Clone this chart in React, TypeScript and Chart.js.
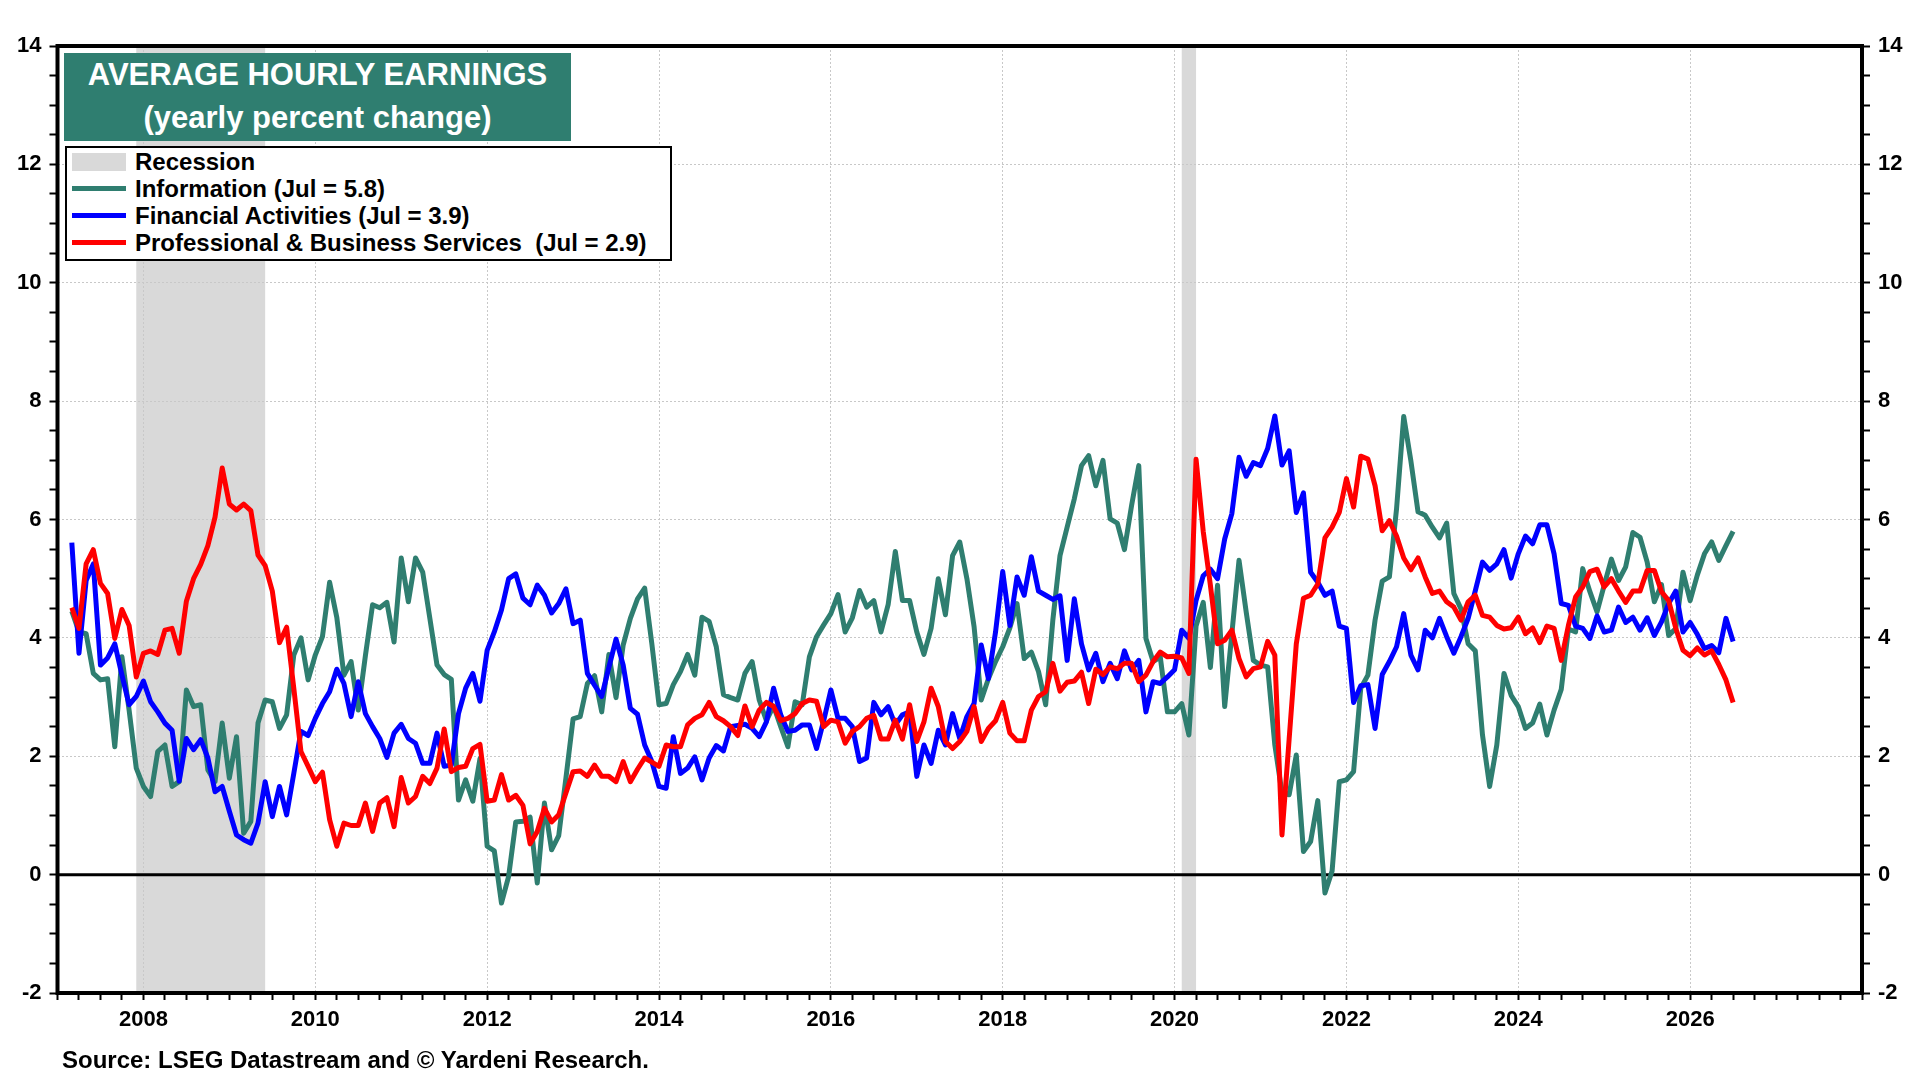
import React, { useEffect, useRef } from "react";
import { Chart, registerables } from "chart.js";

Chart.register(...registerables);

// ---------------- DATA ----------------
// Monthly series, first observation March 2007, last July 2026 (one row per calendar year)
const START_YEAR = 2007;
const START_MONTH = 3;

const information = [
  4.45, 4.10, 4.07, 3.40, 3.29, 3.31, 2.16, 3.68, 2.78, 1.80, // 2007 (Mar-Dec)
  1.49, 1.32, 2.08, 2.19, 1.49, 1.57, 3.12, 2.84, 2.87, 1.77, 1.57, 2.56, // 2008
  1.63, 2.33, 0.70, 0.90, 2.56, 2.95, 2.92, 2.47, 2.70, 3.71, 4.00, 3.29, // 2009
  3.71, 4.02, 4.94, 4.35, 3.37, 3.60, 2.78, 3.70, 4.56, 4.51, 4.60, 3.93, // 2010
  5.35, 4.61, 5.35, 5.11, 4.33, 3.54, 3.38, 3.30, 1.26, 1.60, 1.24, 1.96, // 2011
  0.48, 0.40, -0.48, -0.03, 0.89, 0.90, 0.97, -0.14, 1.21, 0.42, 0.66, 1.63, // 2012
  2.63, 2.67, 3.23, 3.36, 2.75, 3.72, 2.99, 3.88, 4.33, 4.66, 4.84, 3.90, // 2013
  2.87, 2.89, 3.21, 3.43, 3.72, 3.37, 4.35, 4.28, 3.85, 3.04, 2.99, 2.95, // 2014
  3.40, 3.60, 2.95, 2.60, 2.85, 2.50, 2.16, 2.92, 2.87, 3.68, 4.02, 4.22, // 2015
  4.41, 4.73, 4.10, 4.34, 4.80, 4.52, 4.63, 4.10, 4.56, 5.46, 4.63, 4.63, // 2016
  4.10, 3.72, 4.16, 5.00, 4.39, 5.39, 5.62, 5.00, 4.19, 2.95, 3.31, 3.60, // 2017
  3.85, 4.17, 4.58, 3.65, 3.76, 3.43, 2.87, 4.30, 5.39, 5.87, 6.35, 6.91, // 2018
  7.08, 6.57, 7.00, 6.01, 5.94, 5.49, 6.24, 6.91, 3.99, 3.60, 3.68, 2.75, // 2019
  2.75, 2.89, 2.36, 4.20, 4.60, 3.50, 4.89, 2.84, 4.07, 5.31, 4.44, 3.62, // 2020
  3.54, 3.51, 2.19, 1.38, 1.35, 2.02, 0.39, 0.56, 1.25, -0.31, 0.06, 1.57, // 2021
  1.60, 1.74, 3.15, 3.37, 4.30, 4.96, 5.03, 6.18, 7.74, 6.99, 6.13, 6.07, // 2022
  5.87, 5.69, 5.94, 4.75, 4.49, 3.90, 3.78, 2.36, 1.49, 2.19, 3.40, 3.03, // 2023
  2.84, 2.47, 2.56, 2.88, 2.36, 2.78, 3.13, 4.15, 4.10, 5.17, 4.78, 4.44, // 2024
  4.89, 5.33, 4.97, 5.20, 5.78, 5.70, 5.28, 4.61, 4.90, 4.04, 4.16, 5.11, // 2025
  4.63, 5.06, 5.42, 5.62, 5.31, 5.56, 5.80, // 2026 (Jan-Jul)
];

const financialActivities = [
  5.61, 3.74, 4.97, 5.25, 3.54, 3.66, 3.90, 3.37, 2.87, 3.01, // 2007
  3.27, 2.92, 2.75, 2.56, 2.44, 1.58, 2.30, 2.11, 2.28, 1.97, 1.40, 1.49, // 2008
  1.07, 0.67, 0.59, 0.53, 0.87, 1.57, 0.98, 1.49, 1.01, 1.71, 2.42, 2.35, // 2009
  2.64, 2.89, 3.09, 3.47, 3.23, 2.67, 3.26, 2.72, 2.50, 2.30, 1.98, 2.39, // 2010
  2.54, 2.30, 2.22, 1.88, 1.88, 2.39, 1.83, 1.85, 2.72, 3.15, 3.40, 2.93, // 2011
  3.79, 4.10, 4.47, 5.00, 5.08, 4.67, 4.56, 4.89, 4.72, 4.42, 4.58, 4.83, // 2012
  4.24, 4.30, 3.40, 3.20, 3.01, 3.50, 3.98, 3.54, 2.81, 2.71, 2.19, 1.91, // 2013
  1.49, 1.46, 2.33, 1.71, 1.80, 1.99, 1.60, 1.97, 2.18, 2.09, 2.50, 2.52, // 2014
  2.54, 2.47, 2.33, 2.58, 3.15, 2.70, 2.42, 2.44, 2.53, 2.53, 2.13, 2.60, // 2015
  3.12, 2.64, 2.64, 2.50, 1.91, 1.97, 2.91, 2.70, 2.84, 2.53, 2.70, 2.75, // 2016
  1.66, 2.19, 1.88, 2.44, 2.19, 2.72, 2.30, 2.67, 2.89, 3.88, 3.31, 4.10, // 2017
  5.12, 4.21, 5.03, 4.72, 5.37, 4.79, 4.72, 4.65, 4.71, 3.62, 4.66, 3.90, // 2018
  3.46, 3.74, 3.26, 3.57, 3.31, 3.78, 3.46, 3.62, 2.75, 3.26, 3.23, 3.34, // 2019
  3.46, 4.13, 3.99, 4.63, 5.05, 5.16, 5.00, 5.67, 6.10, 7.05, 6.73, 6.96, // 2020
  6.91, 7.20, 7.75, 6.92, 7.16, 6.12, 6.45, 5.11, 4.94, 4.72, 4.79, 4.20, // 2021
  4.16, 2.91, 3.19, 3.21, 2.47, 3.38, 3.60, 3.85, 4.41, 3.71, 3.46, 4.13, // 2022
  4.00, 4.33, 4.02, 3.74, 4.02, 4.33, 4.80, 5.28, 5.14, 5.25, 5.49, 5.01, // 2023
  5.42, 5.72, 5.59, 5.91, 5.91, 5.42, 4.58, 4.55, 4.20, 4.16, 3.99, 4.37, // 2024
  4.10, 4.13, 4.52, 4.26, 4.35, 4.13, 4.34, 4.04, 4.27, 4.58, 4.79, 4.10, // 2025
  4.26, 4.06, 3.82, 3.87, 3.75, 4.33, 3.94, // 2026
];

const professionalBusiness = [
  4.51, 4.16, 5.25, 5.49, 4.92, 4.75, 3.99, 4.48, 4.21, 3.34, // 2007
  3.74, 3.78, 3.72, 4.13, 4.16, 3.74, 4.62, 5.00, 5.24, 5.56, 6.04, 6.87, // 2008
  6.26, 6.16, 6.26, 6.15, 5.40, 5.22, 4.79, 3.92, 4.18, 3.15, 2.08, 1.83, // 2009
  1.57, 1.73, 0.93, 0.48, 0.87, 0.83, 0.83, 1.21, 0.73, 1.21, 1.30, 0.81, // 2010
  1.64, 1.21, 1.32, 1.66, 1.54, 1.80, 2.46, 1.74, 1.81, 1.83, 2.13, 2.20, // 2011
  1.24, 1.26, 1.69, 1.26, 1.34, 1.17, 0.52, 0.73, 1.12, 0.89, 1.01, 1.38, // 2012
  1.74, 1.75, 1.66, 1.85, 1.66, 1.66, 1.57, 1.91, 1.57, 1.78, 1.97, 1.90, // 2013
  1.83, 2.19, 2.16, 2.16, 2.53, 2.64, 2.70, 2.91, 2.67, 2.60, 2.50, 2.35, // 2014
  2.85, 2.50, 2.78, 2.91, 2.84, 2.60, 2.64, 2.72, 2.89, 2.95, 2.93, 2.50, // 2015
  2.61, 2.58, 2.22, 2.42, 2.50, 2.64, 2.69, 2.29, 2.29, 2.61, 2.29, 2.87, // 2016
  2.25, 2.58, 3.15, 2.84, 2.25, 2.13, 2.25, 2.42, 2.84, 2.25, 2.47, 2.60, // 2017
  2.91, 2.39, 2.26, 2.26, 2.78, 3.01, 3.09, 3.57, 3.10, 3.25, 3.27, 3.42, // 2018
  2.89, 3.47, 3.38, 3.51, 3.48, 3.57, 3.57, 3.26, 3.37, 3.60, 3.76, 3.68, // 2019
  3.69, 3.66, 3.40, 7.02, 5.80, 4.89, 3.90, 3.96, 4.13, 3.65, 3.34, 3.48, // 2020
  3.51, 3.94, 3.71, 0.67, 2.29, 3.90, 4.67, 4.72, 4.91, 5.69, 5.87, 6.12, // 2021
  6.69, 6.21, 7.07, 7.02, 6.57, 5.81, 5.98, 5.72, 5.35, 5.15, 5.35, 5.03, // 2022
  4.75, 4.79, 4.61, 4.52, 4.30, 4.61, 4.72, 4.38, 4.35, 4.21, 4.15, 4.17, // 2023
  4.35, 4.07, 4.17, 3.92, 4.20, 4.16, 3.62, 4.21, 4.69, 4.86, 5.12, 5.16, // 2024
  4.86, 5.00, 4.79, 4.60, 4.79, 4.79, 5.14, 5.14, 4.78, 4.63, 4.16, 3.79, // 2025
  3.70, 3.83, 3.71, 3.78, 3.55, 3.29, 2.91, // 2026
];

const seriesLabels = [
  "Information (Jul = 5.8)",
  "Financial Activities (Jul = 3.9)",
  "Professional & Business Services  (Jul = 2.9)",
];
const recessionLabel = "Recession";
// recession periods as [start year, start month, end year, end month]
const recessions = [
  [2007, 12, 2009, 6],
  [2020, 2, 2020, 4],
];
const titleLines = ["AVERAGE HOURLY EARNINGS", "(yearly percent change)"];
const sourceText = "Source: LSEG Datastream and © Yardeni Research.";
const xRange = [2007, 2028];
const yRange = [-2, 14];
const lastLabelledYear = 2026;

// ---------------- STYLE ----------------
const FONT = "'Liberation Sans', Arial, Helvetica, sans-serif";
const TEAL = "#2f7e70";
const BLUE = "#0000ff";
const RED = "#ff0000";
const SHADE = "#d9d9d9";

const toYear = (y: number, m: number) => y + (m - 1) / 12;
const monthX = (i: number) => START_YEAR + (START_MONTH - 1 + i) / 12;
const isEvenInt = (v: number) =>
  Math.abs(v - Math.round(v)) < 1e-6 && Math.round(v) % 2 === 0;

const decorPlugin = {
  id: "decor",
  beforeDraw(chart: any) {
    const { ctx, chartArea: a, scales } = chart;
    ctx.save();
    ctx.fillStyle = "#ffffff";
    ctx.fillRect(0, 0, chart.width, chart.height);
    ctx.fillStyle = SHADE;
    for (const r of recessions) {
      const x1 = scales.x.getPixelForValue(toYear(r[0], r[1]));
      const x2 = scales.x.getPixelForValue(toYear(r[2], r[3]));
      ctx.fillRect(x1, a.top, x2 - x1, a.bottom - a.top);
    }
    ctx.restore();
  },
  beforeDatasetsDraw(chart: any) {
    const { ctx, chartArea: a, scales } = chart;
    const y0 = scales.y.getPixelForValue(0);
    ctx.save();
    ctx.strokeStyle = "#000";
    ctx.lineWidth = 3;
    ctx.beginPath();
    ctx.moveTo(a.left, y0);
    ctx.lineTo(a.right, y0);
    ctx.stroke();
    ctx.restore();
  },
  afterDraw(chart: any) {
    const { ctx, chartArea: a } = chart;
    ctx.save();
    ctx.strokeStyle = "#000";
    ctx.lineWidth = 4;
    ctx.strokeRect(a.left, a.top, a.right - a.left, a.bottom - a.top);
    ctx.restore();
  },
};

const tickFont = { family: FONT, size: 22, weight: "bold" as const };

function yAxis(position: "left" | "right", width: number, onChart: boolean) {
  return {
    type: "linear",
    position,
    min: yRange[0],
    max: yRange[1],
    afterFit: (s: any) => {
      s.width = width;
    },
    ticks: {
      stepSize: 0.5,
      autoSkip: false,
      padding: 8,
      color: "#000",
      font: tickFont,
      callback: (v: number) => (isEvenInt(v) ? String(Math.round(v)) : ""),
    },
    grid: {
      drawOnChartArea: onChart,
      color: (c: any) =>
        c.tick && isEvenInt(c.tick.value) ? "#c8c8c8" : "rgba(0,0,0,0)",
      lineWidth: 1,
      tickColor: "#000",
      tickWidth: 2,
      tickLength: 8,
    },
    border: { display: false, dash: [2, 2] },
  };
}

export default function App() {
  const canvasRef = useRef<HTMLCanvasElement | null>(null);

  useEffect(() => {
    if (!canvasRef.current) return;
    const mk = (arr: number[]) => arr.map((v, i) => ({ x: monthX(i), y: v }));
    const chart = new Chart(canvasRef.current, {
      type: "line",
      data: {
        datasets: [
          {
            label: seriesLabels[0],
            data: mk(information),
            borderColor: TEAL,
            borderWidth: 5,
            pointRadius: 0,
            order: 2,
          },
          {
            label: seriesLabels[1],
            data: mk(financialActivities),
            borderColor: BLUE,
            borderWidth: 5,
            pointRadius: 0,
            order: 1,
          },
          {
            label: seriesLabels[2],
            data: mk(professionalBusiness),
            borderColor: RED,
            borderWidth: 5,
            pointRadius: 0,
            order: 0,
          },
        ],
      },
      options: {
        animation: false,
        responsive: false,
        devicePixelRatio: 1,
        layout: { padding: { top: 46, left: 0, right: 0, bottom: 0 } },
        plugins: { legend: { display: false }, tooltip: { enabled: false } },
        elements: {
          line: { tension: 0, borderJoinStyle: "round", borderCapStyle: "butt" },
          point: { radius: 0 },
        },
        scales: {
          x: {
            type: "linear",
            min: xRange[0],
            max: xRange[1],
            afterFit: (s: any) => {
              s.height = 87;
            },
            ticks: {
              stepSize: 0.25,
              autoSkip: false,
              maxRotation: 0,
              minRotation: 0,
              padding: 7,
              color: "#000",
              font: tickFont,
              callback: (v: number) =>
                isEvenInt(v) && v <= lastLabelledYear + 1e-6 ? String(Math.round(v)) : "",
            },
            grid: {
              color: (c: any) =>
                c.tick && isEvenInt(c.tick.value) ? "#c8c8c8" : "rgba(0,0,0,0)",
              lineWidth: 1,
              tickColor: "#000",
              tickWidth: 2,
              tickLength: 7,
            },
            border: { display: false, dash: [2, 2] },
          },
          y: yAxis("left", 57.5, true),
          y2: yAxis("right", 58, false),
        },
      } as any,
      plugins: [decorPlugin],
    });
    return () => chart.destroy();
  }, []);

  const txt: React.CSSProperties = {
    position: "absolute",
    fontFamily: FONT,
    fontWeight: "bold",
    whiteSpace: "pre",
    color: "#000",
  };
  const rowCenters = [161.6, 188.6, 215.5, 242.5];
  const lineColors = [TEAL, BLUE, RED];

  return (
    <div
      style={{
        position: "absolute",
        left: 0,
        top: 0,
        width: 1920,
        height: 1080,
        background: "#fff",
        overflow: "hidden",
      }}
    >
      <canvas
        ref={canvasRef}
        width={1920}
        height={1080}
        style={{ position: "absolute", left: 0, top: 0, width: 1920, height: 1080, display: "block" }}
      />
      {/* Title box */}
      <div
        style={{
          position: "absolute",
          left: 64,
          top: 53,
          width: 507,
          height: 88,
          background: TEAL,
        }}
      >
        {titleLines.map((t, i) => (
          <div
            key={i}
            style={{
              ...txt,
              position: "absolute",
              left: 0,
              width: 507,
              top: 1 + i * 42.5,
              height: 42,
              lineHeight: "42px",
              textAlign: "center",
              color: "#fff",
              fontSize: 31,
            }}
          >
            {t}
          </div>
        ))}
      </div>
      {/* Legend box */}
      <div
        style={{
          position: "absolute",
          left: 65,
          top: 146,
          width: 603,
          height: 111,
          border: "2px solid #000",
          background: "#fff",
        }}
      />
      <div
        style={{
          position: "absolute",
          left: 72,
          top: rowCenters[0] - 9,
          width: 54,
          height: 18,
          background: SHADE,
        }}
      />
      <div style={{ ...txt, left: 135, top: rowCenters[0] - 14, height: 28, lineHeight: "28px", fontSize: 24 }}>
        {recessionLabel}
      </div>
      {seriesLabels.map((s, i) => (
        <React.Fragment key={s}>
          <div
            style={{
              position: "absolute",
              left: 72,
              top: rowCenters[i + 1] - 2.5,
              width: 54,
              height: 5,
              background: lineColors[i],
            }}
          />
          <div
            style={{
              ...txt,
              left: 135,
              top: rowCenters[i + 1] - 14,
              height: 28,
              lineHeight: "28px",
              fontSize: 24,
            }}
          >
            {s}
          </div>
        </React.Fragment>
      ))}
      {/* Source */}
      <div style={{ ...txt, left: 62, top: 1046, height: 28, lineHeight: "28px", fontSize: 24 }}>
        {sourceText}
      </div>
    </div>
  );
}
